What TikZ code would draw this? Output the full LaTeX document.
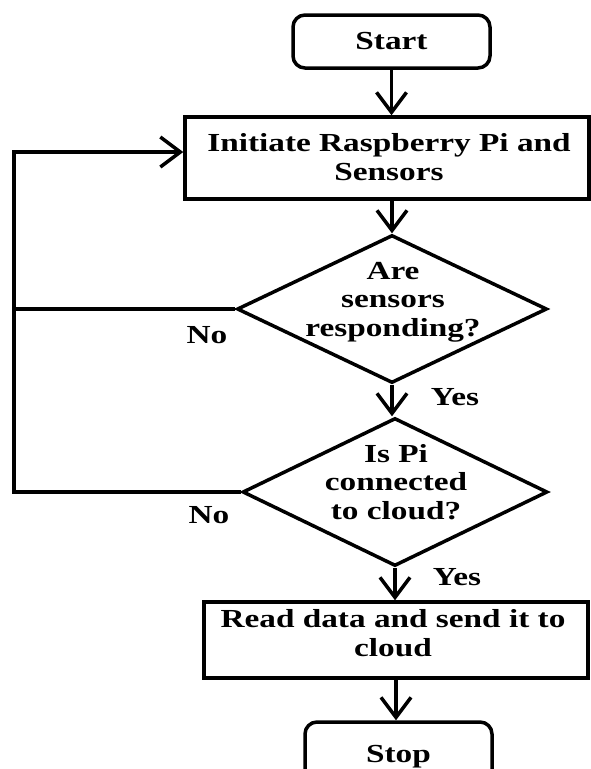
\documentclass[tikz,border=0pt]{standalone}
\usepackage{fontspec}
\setmainfont[FakeStretch=1.28]{Liberation Serif}
\usetikzlibrary{shapes.geometric, arrows.meta}

\begin{document}
\begin{tikzpicture}[x=1pt, y=-1pt, line width=3.5pt,
		txt/.style={font=\bfseries\fontsize{26}{28.5}\selectfont, align=center, inner sep=0pt},
		terminal/.style={draw, rounded corners=12pt, inner sep=0pt},
		process/.style={draw, inner sep=0pt},
		decision/.style={draw, diamond, inner sep=0pt},
		arr/.style={-{Straight Barb[length=20pt, width=30pt]}}]
	\useasboundingbox (0,0) rectangle (590,769);

	\node[terminal, minimum width=197pt, minimum height=53pt] (start) at (391.5,41.5) {};
	\node[process, minimum width=404pt, minimum height=82pt] (init) at (387,158) {};
	\node[decision, minimum width=310pt, minimum height=148pt] (d1) at (392,309) {};
	\node[decision, minimum width=305pt, minimum height=148pt] (d2) at (395,492) {};
	\node[process, minimum width=384pt, minimum height=76pt] (read) at (396,640) {};
	\node[terminal, minimum width=187pt, minimum height=62pt] (stop) at (398.5,753) {};

	\node[txt] (startt) at (391.5,41) {Start};
	\node[txt] (initt) at (389,157) {Initiate Raspberry Pi and\\Sensors};
	\node[txt] (d1t) at (393,302) {Are\\sensors\\responding?};
	\node[txt] (d2t) at (396,482) {Is Pi\\connected\\to cloud?};
	\node[txt] (readt) at (393,633) {Read data and send it to\\cloud};
	\node[txt] (stopt) at (398.5,757) {Stop};

	\node[txt] (no1) at (207,335) {No};
	\node[txt] (no2) at (209,515) {No};
	\node[txt] (yes1) at (455,397) {Yes};
	\node[txt] (yes2) at (457,577) {Yes};

	\coordinate (loopt) at (14,152);
	\coordinate (loopb) at (14,492);

	\draw[arr] (start.south) -- (start.south |- init.north);
	\draw[arr] (d1.north |- init.south) -- (d1.north);
	\draw[arr] (d1.south) -- (d1.south |- d2.north);
	\draw[arr] (d2.south) -- (d2.south |- read.north);
	\draw[arr] (read.south) -- (read.south |- stop.north);
	\draw[arr] (d2.west) -- (loopb) -- (loopt) -- (loopt -| init.west);
	\draw (d1.west) -- (d1.west -| loopb);
\end{tikzpicture}
\end{document}
